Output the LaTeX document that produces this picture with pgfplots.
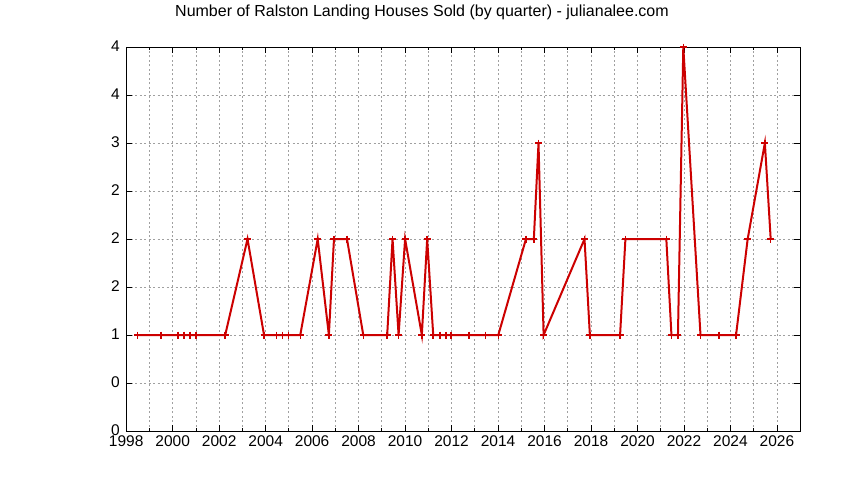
\documentclass[border=0pt]{standalone}
\usepackage{fontspec}
\setmainfont{Liberation Sans}
\usepackage{pgfplots}
\pgfplotsset{compat=1.18}
\definecolor{gpred}{HTML}{CC0000}
\definecolor{gridgray}{HTML}{A0A0A0}
\begin{document}
\fontsize{16}{18}\selectfont
\begin{tikzpicture}[x=1pt,y=1pt]
\path[use as bounding box] (0,0) rectangle (844,480);
\node[anchor=base] at (422,463) {\fontsize{16}{18}\selectfont Number of Ralston Landing Houses Sold (by quarter) - julianalee.com};
\begin{axis}[
    at={(126.2pt,49pt)}, anchor=south west,
    scale only axis, width=674pt, height=384pt,
    xmin=1998, xmax=2027, ymin=0, ymax=4,
    xtick={1998,2000,...,2026},
    minor xtick={1999,2001,...,2025},
    ytick={0,0.5,...,4},
    yticklabels={0,0,1,2,2,2,3,4,4},
    /pgf/number format/1000 sep={},
    /pgf/number format/assume math mode=true,
    tick align=inside,
    major tick length=6pt, minor tick length=3pt,
    tick style={black, line width=0.8pt},
    axis line style={black, line width=1pt},
    grid=both,
    major grid style={gridgray, line width=0.8pt, dash pattern=on 2pt off 2.5pt},
    minor grid style={gridgray, line width=0.8pt, dash pattern=on 2pt off 2.5pt},
    ticklabel style={font=\fontsize{15.5}{17}\selectfont},
    xticklabel style={yshift=-3pt, inner ysep=1pt},
    yticklabel style={xshift=-1pt, yshift=1pt, inner ysep=1pt},
]
\addplot[gpred, line width=2pt, mark=+, mark size=3.5pt,
    mark options={line width=1.5pt}] coordinates {
(1998.49,1) (1999.50,1) (2000.23,1) (2000.49,1) (2000.74,1) (2001.00,1)
(2002.26,1) (2003.22,2) (2003.93,1) (2004.47,1) (2004.73,1) (2004.99,1)
(2005.49,1) (2006.24,2) (2006.72,1) (2006.94,2) (2007.50,2) (2008.20,1)
(2009.23,1) (2009.46,2) (2009.72,1) (2010.00,2) (2010.72,1) (2010.95,2)
(2011.21,1) (2011.50,1) (2011.76,1) (2011.98,1) (2012.76,1) (2013.47,1)
(2014.01,1) (2015.20,2) (2015.54,2) (2015.74,3) (2015.96,1) (2017.72,2)
(2017.95,1) (2019.25,1) (2019.48,2) (2021.24,2) (2021.46,1) (2021.74,1)
(2021.97,4) (2022.71,1) (2023.50,1) (2024.24,1) (2024.74,2) (2025.48,3)
(2025.73,2)
};
\end{axis}
\end{tikzpicture}
\end{document}
